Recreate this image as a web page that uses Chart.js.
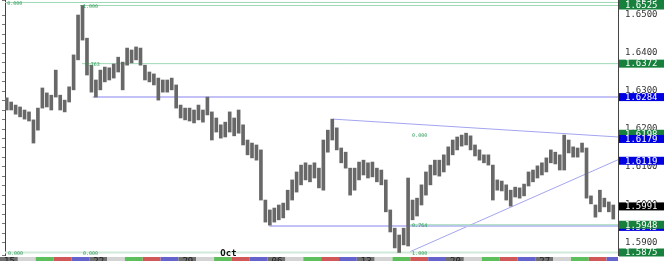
<!DOCTYPE html>
<html>
<head>
<meta charset="utf-8">
<script src="https://cdn.jsdelivr.net/npm/chart.js@4/dist/chart.umd.min.js"></script>
<style>
  html, body { margin: 0; padding: 0; background: #fff; }
  #wrap { width: 670px; height: 261px; position: relative; }
</style>
</head>
<body>
<div id="wrap"><canvas id="chart" width="670" height="261"></canvas></div>
<script>
// Price bars, 6-hour steps, time axis in trading days from Mon 15 Sep
const barStart = 0.375;
const barStep = 0.25;
const highs = [
  1.6282, 1.6271, 1.6263, 1.6258, 1.6250, 1.6245, 1.6224, 1.6255, 1.6308, 1.6295,
  1.6289, 1.6355, 1.6289, 1.6276, 1.6311, 1.6395, 1.6500, 1.6525, 1.6439, 1.6368,
  1.6329, 1.6355, 1.6363, 1.6361, 1.6371, 1.6389, 1.6376, 1.6413, 1.6408, 1.6416,
  1.6413, 1.6368, 1.6350, 1.6345, 1.6334, 1.6329, 1.6329, 1.6334, 1.6316, 1.6263,
  1.6255, 1.6255, 1.6250, 1.6263, 1.6250, 1.6284, 1.6245, 1.6229, 1.6211, 1.6218,
  1.6245, 1.6229, 1.6250, 1.6211, 1.6171, 1.6163, 1.6158, 1.6145, 1.6013, 1.5987,
  1.5992, 1.6000, 1.6005, 1.6039, 1.6066, 1.6087, 1.6105, 1.6111, 1.6105, 1.6111,
  1.6097, 1.6171, 1.6197, 1.6226, 1.6203, 1.6150, 1.6139, 1.6097, 1.6097, 1.6113,
  1.6118, 1.6111, 1.6113, 1.6097, 1.6092, 1.6066, 1.5987, 1.5939, 1.5921, 1.5939,
  1.6071, 1.6013, 1.6018, 1.6053, 1.6087, 1.6105, 1.6118, 1.6118, 1.6132, 1.6153,
  1.6171, 1.6179, 1.6184, 1.6189, 1.6182, 1.6158, 1.6145, 1.6132, 1.6132, 1.6105,
  1.6066, 1.6063, 1.6053, 1.6039, 1.6047, 1.6045, 1.6055, 1.6087, 1.6092, 1.6103,
  1.6111, 1.6124, 1.6145, 1.6139, 1.6132, 1.6184, 1.6171, 1.6153, 1.6150, 1.6163,
  1.6150, 1.6024, 1.6000, 1.6039, 1.6018, 1.6008, 1.6000
];
const lows = [
  1.6250, 1.6250, 1.6239, 1.6232, 1.6226, 1.6221, 1.6163, 1.6197, 1.6255, 1.6258,
  1.6250, 1.6284, 1.6250, 1.6245, 1.6271, 1.6303, 1.6382, 1.6434, 1.6342, 1.6297,
  1.6284, 1.6303, 1.6324, 1.6329, 1.6334, 1.6350, 1.6303, 1.6368, 1.6374, 1.6382,
  1.6368, 1.6329, 1.6324, 1.6316, 1.6276, 1.6297, 1.6297, 1.6303, 1.6255, 1.6229,
  1.6224, 1.6221, 1.6216, 1.6224, 1.6218, 1.6237, 1.6171, 1.6192, 1.6176, 1.6179,
  1.6192, 1.6182, 1.6189, 1.6158, 1.6132, 1.6124, 1.6118, 1.6013, 1.5955, 1.5947,
  1.5955, 1.5961, 1.5966, 1.5987, 1.6013, 1.6034, 1.6053, 1.6066, 1.6061, 1.6071,
  1.6045, 1.6039, 1.6139, 1.6171, 1.6145, 1.6111, 1.6097, 1.6026, 1.6039, 1.6066,
  1.6079, 1.6071, 1.6074, 1.6061, 1.6053, 1.5982, 1.5929, 1.5887, 1.5875, 1.5895,
  1.5892, 1.5961, 1.5971, 1.6000, 1.6026, 1.6053, 1.6079, 1.6076, 1.6087, 1.6105,
  1.6132, 1.6145, 1.6155, 1.6158, 1.6145, 1.6129, 1.6118, 1.6111, 1.6105, 1.6013,
  1.6039, 1.6037, 1.6013, 1.5997, 1.6021, 1.6018, 1.6024, 1.6050, 1.6061, 1.6071,
  1.6079, 1.6087, 1.6111, 1.6108, 1.6092, 1.6092, 1.6137, 1.6126, 1.6126, 1.6139,
  1.6018, 1.6003, 1.5968, 1.5982, 1.5995, 1.5982, 1.5963
];

// Axis ranges and ticks
const xMin = 0.28;
const xMax = 34.64;
const yMin = 1.58684;
const yMax = 1.65395;
const yTicks = [1.59, 1.60, 1.61, 1.62, 1.63, 1.64, 1.65];

// Bottom day strip
const dayCount = 35;
const dayColors = ["#707070", "#d4d4d4", "#5cbf5c", "#d05858", "#6464cc"];
const weekLabels = ["15", "22", "29", "06", "13", "20", "27"];
const monthLabel = "Oct";
const monthDay = 12.35;

// Fibonacci levels (green) and support lines (blue)
const greenLevels = [1.6533, 1.6525, 1.6372, 1.5948, 1.5875];
const greenStarts = [0.28, 4.48, 4.6, 23.0, 0.28];
const blueLevels = [1.6284, 1.5945];
const blueStarts = [5.2, 15.1];
const trendUpper = [[18.67, 1.6226], [34.64, 1.6179]];
const trendLower = [[22.98, 1.5877], [34.64, 1.6119]];

const fibTexts = ["0.000", "1.000", "0.763", "0.000", "0.000", "0.000", "0.764", "1.000"];
const fibValues = [1.6533, 1.6525, 1.6372, 1.5875, 1.5875, 1.6184, 1.5948, 1.5875];
const fibDays = [0.4, 4.65, 4.75, 0.45, 4.65, 23.1, 23.1, 23.1];

// Price tags on the right axis (drawn in order, later ones on top)
const tagValues = [1.6533, 1.6525, 1.6372, 1.6284, 1.6198, 1.6179, 1.6119, 1.5991, 1.5945, 1.5948, 1.5875];
const tagTexts = ["1.6533", "1.6525", "1.6372", "1.6284", "1.6198", "1.6179", "1.6119", "1.5991", "1.5945", "1.5948", "1.5875"];
const tagColors = ["#17803c", "#17803c", "#17803c", "#0000e0", "#17803c", "#0000e0", "#0000e0", "#000000", "#0000e0", "#17803c", "#17803c"];
// tags get pushed apart where they crowd the axis labels
const tagNudge = [0, 0, 0, 0, 4, 2, 1, -2, 1, 0, 0];

const monoFont = "'DejaVu Sans Mono', monospace";

document.addEventListener("DOMContentLoaded", () => {
  const ctx = document.getElementById("chart").getContext("2d");

  // Build datasets
  const barData = highs.map((h, i) => ({ x: barStart + i * barStep, y: [lows[i], h] }));

  const lineDatasets = [];
  greenLevels.forEach((v, i) => {
    lineDatasets.push({
      type: "line",
      data: [{ x: greenStarts[i], y: v }, { x: xMax, y: v }],
      borderColor: i === 4 ? "#cfe9da" : "#9dd9b5",
      borderWidth: i === 4 ? 2 : 1,
      pointRadius: 0,
      order: 2,
    });
  });
  blueLevels.forEach((v, i) => {
    lineDatasets.push({
      type: "line",
      data: [{ x: blueStarts[i], y: v }, { x: xMax, y: v }],
      borderColor: "#c2c2f6",
      borderWidth: 2,
      pointRadius: 0,
      order: 2,
    });
  });
  [trendUpper, trendLower].forEach((seg) => {
    lineDatasets.push({
      type: "line",
      data: seg.map((p) => ({ x: p[0], y: p[1] })),
      borderColor: "#a4a4f0",
      borderWidth: 1,
      pointRadius: 0,
      order: 2,
    });
  });

  // Overlay: day strip, month label, fib texts, price tags
  const overlayPlugin = {
    id: "overlay",
    afterDraw(chart) {
      const c = chart.ctx;
      const area = chart.chartArea;
      const xs = chart.scales.x;
      const ys = chart.scales.y;
      c.save();

      // day strip
      const stripTop = area.bottom + 2;
      for (let d = 0; d < dayCount; d++) {
        const x0 = Math.max(0, xs.getPixelForValue(d));
        const x1 = Math.min(area.right, xs.getPixelForValue(d + 1));
        if (x1 <= x0) continue;
        c.fillStyle = dayColors[d % 5];
        c.fillRect(x0, stripTop, x1 - x0, chart.height - stripTop);
      }
      c.fillStyle = "#222";
      c.font = "9px " + monoFont;
      c.textBaseline = "top";
      c.textAlign = "left";
      weekLabels.forEach((lab, w) => {
        c.fillText(lab, Math.max(0, xs.getPixelForValue(w * 5)) + 4, stripTop);
      });

      // month label
      c.fillStyle = "#111";
      c.font = "bold 9px " + monoFont;
      c.textBaseline = "bottom";
      c.fillText(monthLabel, xs.getPixelForValue(monthDay), area.bottom + 3);

      // fib texts
      c.fillStyle = "#2a9a55";
      c.font = "5px " + monoFont;
      c.textBaseline = "middle";
      fibTexts.forEach((t, i) => {
        c.fillText(t, xs.getPixelForValue(fibDays[i]), ys.getPixelForValue(fibValues[i]) + 1);
      });

      // price tags
      c.font = "9px " + monoFont;
      tagValues.forEach((v, i) => {
        const py = ys.getPixelForValue(v) + tagNudge[i];
        c.fillStyle = tagColors[i];
        c.fillRect(area.right + 1, py - 4, 45, 8);
        c.fillStyle = "#ffffff";
        c.fillText(tagTexts[i], area.right + 7, py + 0.5);
      });

      c.restore();
    },
  };

  new Chart(ctx, {
    type: "bar",
    data: {
      datasets: [
        {
          type: "bar",
          data: barData,
          backgroundColor: "#686868",
          barThickness: 3,
          order: 1,
        },
        ...lineDatasets,
      ],
    },
    options: {
      responsive: false,
      animation: false,
      layout: { padding: { top: 0, bottom: 6, left: 0, right: 0 } },
      plugins: {
        legend: { display: false },
        tooltip: { enabled: false },
      },
      scales: {
        x: {
          type: "linear",
          min: xMin,
          max: xMax,
          offset: false,
          display: false,
          grid: { display: false, offset: false },
        },
        y: {
          position: "right",
          min: yMin,
          max: yMax,
          afterBuildTicks: (scale) => {
            scale.ticks = yTicks.map((v) => ({ value: v }));
          },
          afterFit: (scale) => {
            scale.width = 52;
            scale.paddingTop = 0;
            scale.paddingBottom = 0;
          },
          grid: { drawOnChartArea: false, drawTicks: false },
          border: { display: true, color: "#444", dash: [2, 2] },
          ticks: {
            padding: 7,
            color: "#333",
            font: { family: monoFont, size: 9 },
            callback: (v) => Number(v).toFixed(4),
          },
        },
        yl: {
          position: "left",
          min: yMin,
          max: yMax,
          ticks: { display: false, stepSize: 0.0025 },
          afterFit: (scale) => {
            scale.width = 5;
            scale.paddingTop = 0;
            scale.paddingBottom = 0;
          },
          grid: { drawOnChartArea: false, drawTicks: true, tickLength: 3, color: "#777" },
          border: { display: true, color: "#444" },
        },
      },
    },
    plugins: [overlayPlugin],
  });
});
</script>
</body>
</html>
